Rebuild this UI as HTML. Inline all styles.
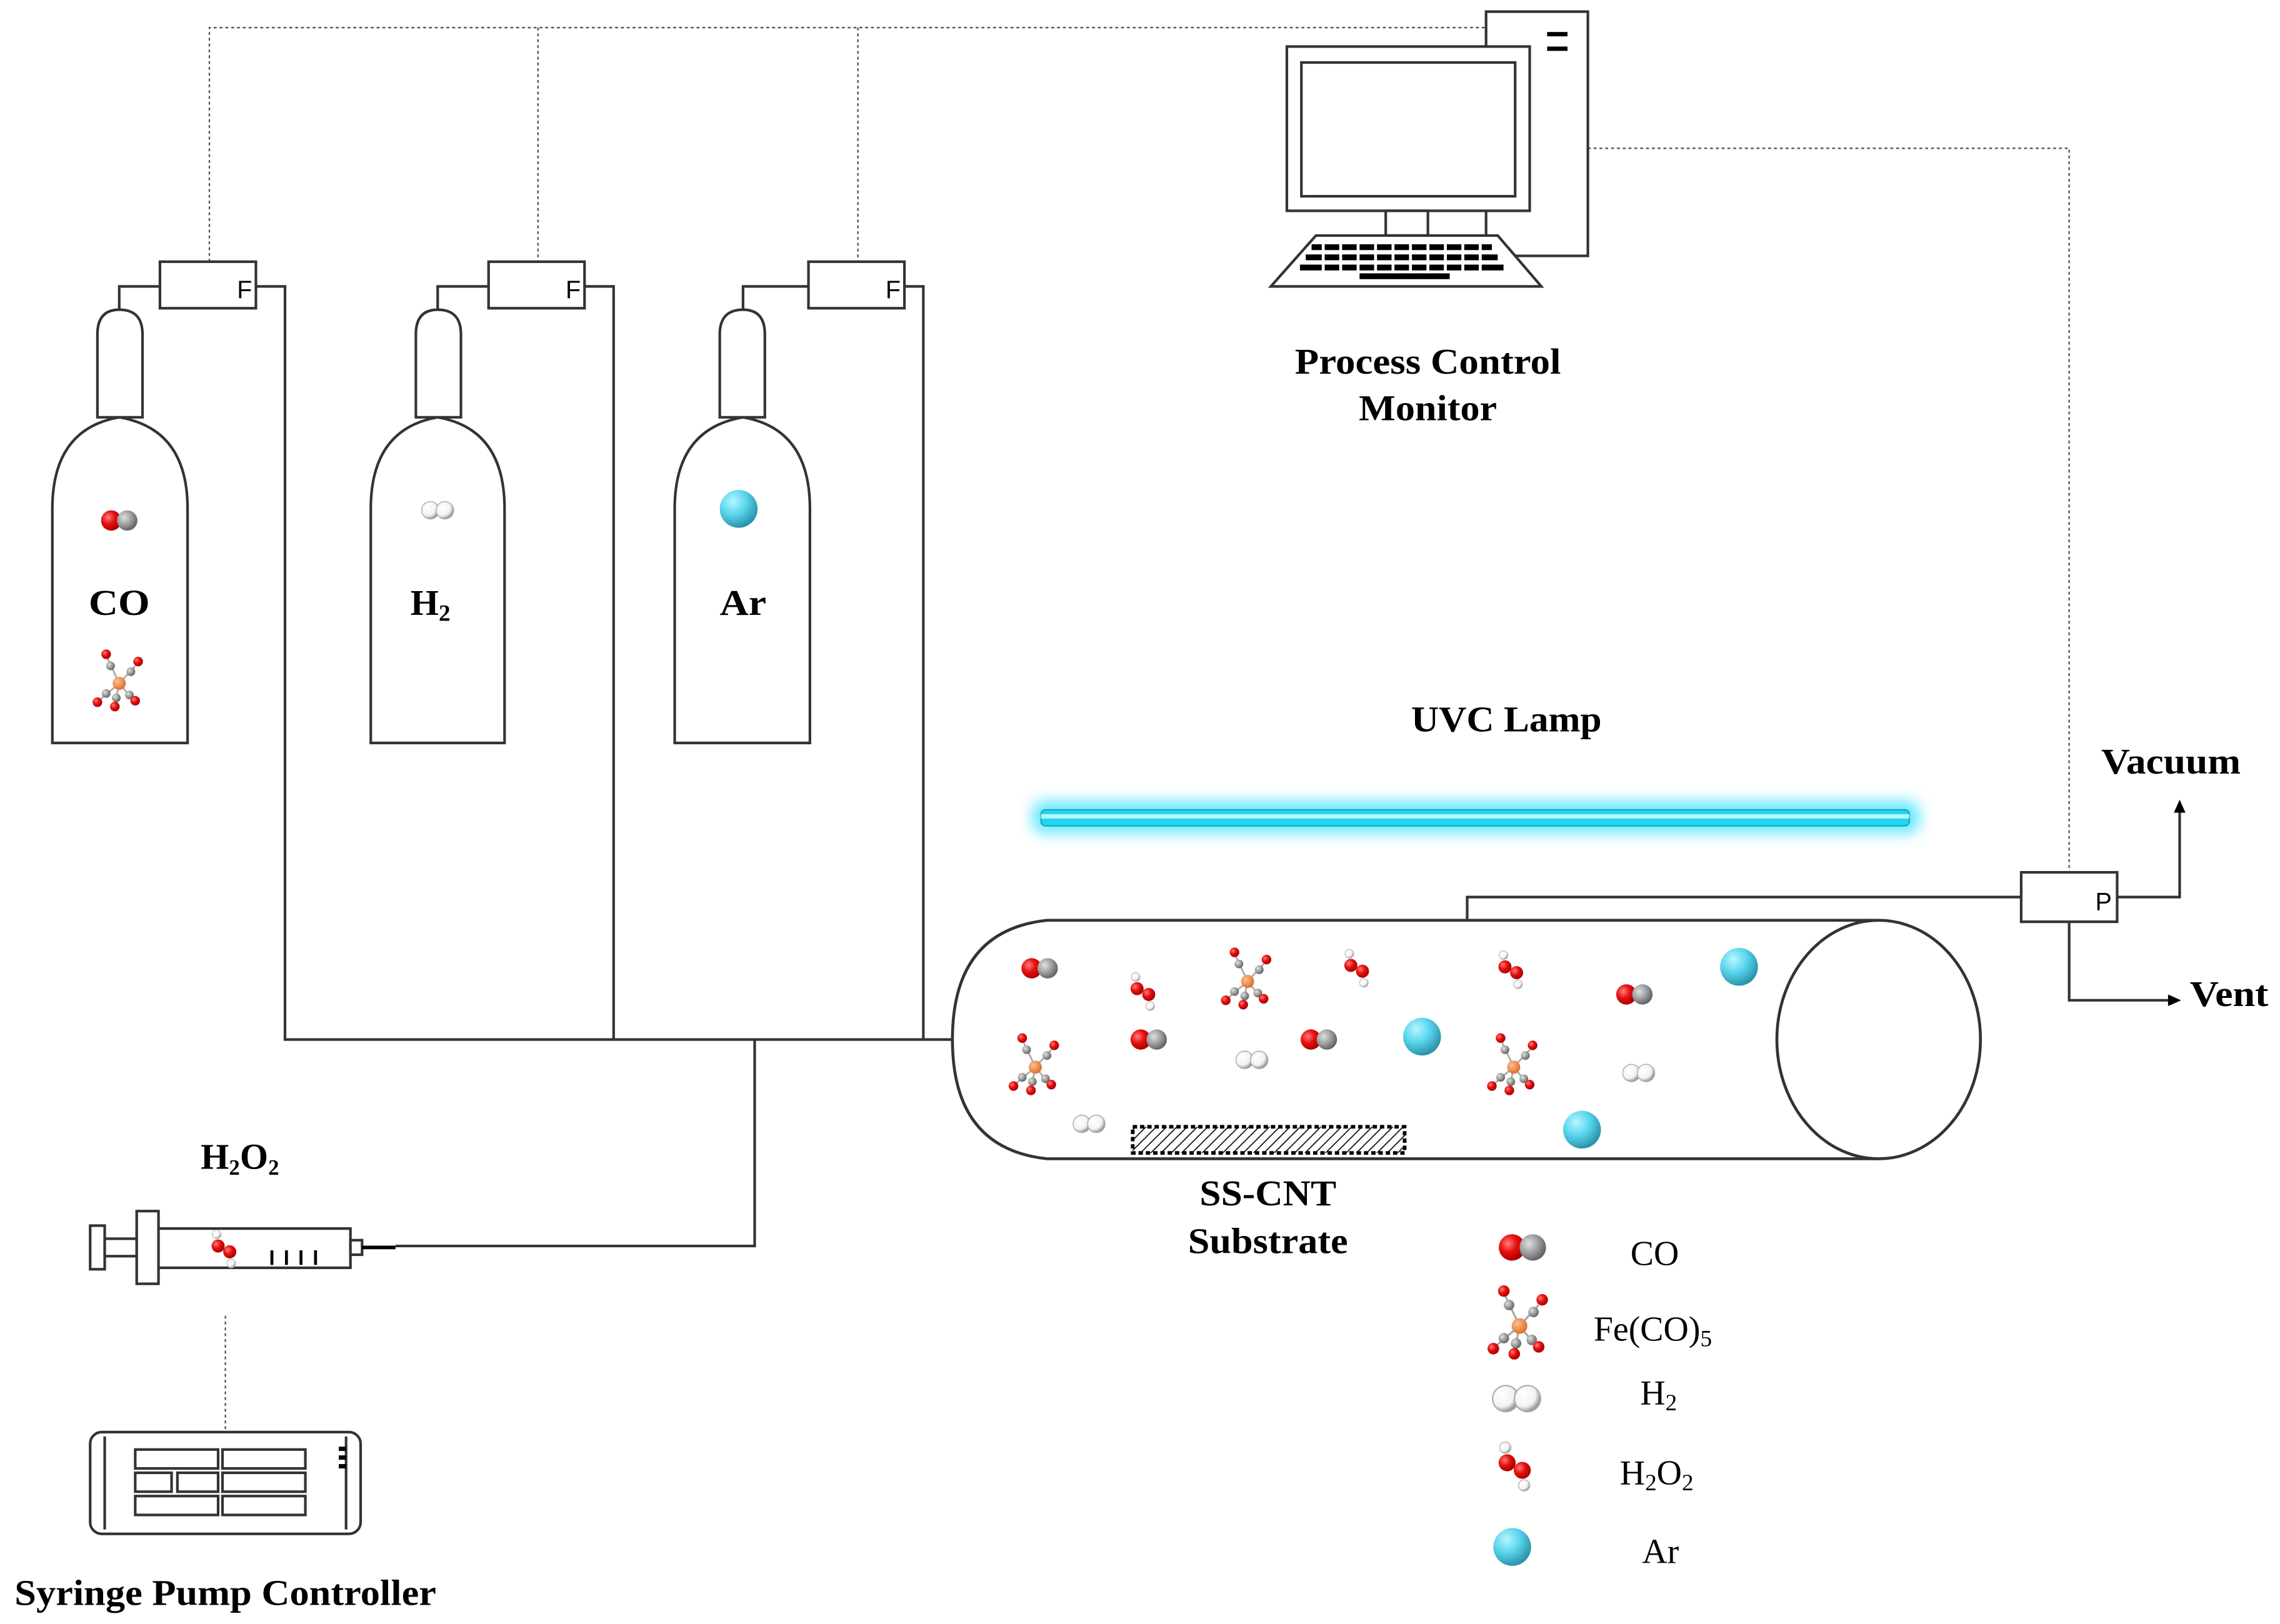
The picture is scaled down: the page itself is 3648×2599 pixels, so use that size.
<!DOCTYPE html>
<html><head><meta charset="utf-8"><style>
html,body{margin:0;padding:0;background:#fff;}
svg{display:block;}
text{font-family:"Liberation Serif",serif;fill:#000;}
.b{font-weight:bold;}
</style></head><body>
<svg width="3648" height="2599" viewBox="0 0 1568 1117" preserveAspectRatio="none" xmlns="http://www.w3.org/2000/svg">
<defs>
<radialGradient id="gr" cx="35%" cy="35%" r="65%"><stop offset="0" stop-color="#ff8080"/><stop offset="0.5" stop-color="#e81010"/><stop offset="1" stop-color="#a00"/></radialGradient>
<radialGradient id="gg" cx="35%" cy="35%" r="65%"><stop offset="0" stop-color="#e0e0e0"/><stop offset="0.6" stop-color="#999"/><stop offset="1" stop-color="#666"/></radialGradient>
<radialGradient id="gw" cx="35%" cy="35%" r="65%"><stop offset="0" stop-color="#fff"/><stop offset="0.7" stop-color="#f2f2f2"/><stop offset="1" stop-color="#999"/></radialGradient>
<radialGradient id="gc" cx="35%" cy="30%" r="70%"><stop offset="0" stop-color="#b8f6ff"/><stop offset="0.5" stop-color="#5ad6ee"/><stop offset="1" stop-color="#2c95ac"/></radialGradient>
<radialGradient id="go" cx="35%" cy="35%" r="65%"><stop offset="0" stop-color="#ffc090"/><stop offset="1" stop-color="#e07030"/></radialGradient>
<pattern id="hatch" width="5" height="5" patternUnits="userSpaceOnUse" patternTransform="rotate(45)"><line x1="0" y1="0" x2="0" y2="5" stroke="#000" stroke-width="1.4"/></pattern>
<filter id="glow" x="-10%" y="-200%" width="120%" height="500%"><feGaussianBlur stdDeviation="5"/></filter>
<g id="co"><circle cx="-5.5" cy="0" r="7" fill="url(#gr)"/><circle cx="5.5" cy="0" r="7" fill="url(#gg)"/></g>
<g id="h2"><circle cx="-5" cy="0" r="6" fill="url(#gw)" stroke="#aaa" stroke-width="0.6"/><circle cx="5" cy="0" r="6" fill="url(#gw)" stroke="#aaa" stroke-width="0.6"/></g>
<g id="ar"><circle cx="0" cy="0" r="13" fill="url(#gc)"/></g>
<g id="h2o2"><circle cx="-6" cy="-11" r="3" fill="url(#gw)" stroke="#bbb" stroke-width="0.5"/><circle cx="-5" cy="-3" r="4.5" fill="url(#gr)"/><circle cx="3" cy="1" r="4.5" fill="url(#gr)"/><circle cx="4" cy="9" r="3" fill="url(#gw)" stroke="#bbb" stroke-width="0.5"/></g>
<g id="fe">
<g stroke="#aaa" stroke-width="1.2"><line x1="0" y1="0" x2="-8" y2="-17"/><line x1="0" y1="0" x2="11" y2="-12"/><line x1="0" y1="0" x2="-13" y2="11"/><line x1="0" y1="0" x2="-3" y2="15"/><line x1="0" y1="0" x2="10" y2="12"/></g>
<circle cx="-6" cy="-12" r="3" fill="url(#gg)"/><circle cx="-9" cy="-20" r="3.3" fill="url(#gr)"/>
<circle cx="8" cy="-8" r="3" fill="url(#gg)"/><circle cx="13" cy="-15" r="3.3" fill="url(#gr)"/>
<circle cx="-9" cy="7" r="3" fill="url(#gg)"/><circle cx="-15" cy="13" r="3.3" fill="url(#gr)"/>
<circle cx="-2" cy="10" r="3" fill="url(#gg)"/><circle cx="-3" cy="16" r="3.3" fill="url(#gr)"/>
<circle cx="7" cy="8" r="3" fill="url(#gg)"/><circle cx="11" cy="12" r="3.3" fill="url(#gr)"/>
<circle cx="0" cy="0" r="4.5" fill="url(#go)"/>
</g>
</defs>

<g stroke="#555" stroke-width="1" stroke-dasharray="2,2" fill="none">
<polyline points="144,180 144,19 1022,19"/>
<line x1="370" y1="19" x2="370" y2="180"/>
<line x1="590" y1="19" x2="590" y2="180"/>
<polyline points="1092,102 1423,102 1423,600"/>
<line x1="155" y1="905" x2="155" y2="985"/>
</g>

<g stroke="#333" stroke-width="1.8" fill="none">
<polyline points="82,213 82,197 110,197"/>
<polyline points="176,197 196,197 196,715 655,715"/>
<polyline points="301,213 301,197 336,197"/>
<polyline points="402,197 422,197 422,715"/>
<polyline points="511,213 511,197 556,197"/>
<polyline points="622,197 635,197 635,715"/>
<polyline points="519,715 519,857 272,857"/>
<polyline points="1009,633 1009,617 1390,617"/>
<polyline points="1456,617 1499,617 1499,558"/>
<polyline points="1423,634 1423,688 1492,688"/>
</g>
<polygon points="1499,550 1495,559 1503,559" fill="#000"/>
<polygon points="1500,688 1491,684 1491,692" fill="#000"/>

<g fill="#fff" stroke="#333" stroke-width="1.8">
<rect x="110" y="180" width="66" height="32"/>
<rect x="336" y="180" width="66" height="32"/>
<rect x="556" y="180" width="66" height="32"/>
<rect x="1390" y="600" width="66" height="34"/>
</g>
<g font-size="17">
<text x="163" y="205" style="font-family:'Liberation Sans',sans-serif">F</text>
<text x="389" y="205" style="font-family:'Liberation Sans',sans-serif">F</text>
<text x="609" y="205" style="font-family:'Liberation Sans',sans-serif">F</text>
<text x="1441" y="626" style="font-family:'Liberation Sans',sans-serif">P</text>
</g>

<g fill="#fff" stroke="#333" stroke-width="1.8">
<path d="M67,287 V230 Q67,213 82,213 Q98,213 98,230 V287 Z"/>
<path d="M36,511 V350 Q36,295 82,287 Q129,295 129,350 V511 Z"/>
<path d="M286,287 V230 Q286,213 301,213 Q317,213 317,230 V287 Z"/>
<path d="M255,511 V350 Q255,295 301,287 Q347,295 347,350 V511 Z"/>
<path d="M495,287 V230 Q495,213 511,213 Q526,213 526,230 V287 Z"/>
<path d="M464,511 V350 Q464,295 511,287 Q557,295 557,350 V511 Z"/>
</g>
<use href="#co" x="82" y="358"/>
<use href="#fe" x="82" y="470"/>
<use href="#h2" x="301" y="351"/>
<use href="#ar" x="508" y="350"/>
<text class="b" x="82" y="423" font-size="25" text-anchor="middle" textLength="42" lengthAdjust="spacingAndGlyphs">CO</text>
<text class="b" x="296" y="423" font-size="25" text-anchor="middle">H<tspan font-size="16" dy="4">2</tspan></text>
<text class="b" x="511" y="423" font-size="25" text-anchor="middle" textLength="32" lengthAdjust="spacingAndGlyphs">Ar</text>

<g fill="#fff" stroke="#333" stroke-width="1.8">
<rect x="1022" y="8" width="70" height="168"/>
<rect x="885" y="32" width="167" height="113"/>
<rect x="895" y="43" width="147" height="92"/>
<rect x="953" y="145" width="29" height="17"/>
<polygon points="905,162 1030,162 1060,197 874,197"/>
</g>
<rect x="1064" y="22" width="14" height="3" fill="#000"/>
<rect x="1064" y="32" width="14" height="3" fill="#000"/>
<g fill="#000">
<rect x="902" y="168" width="124" height="4"/>
<rect x="898" y="175" width="132" height="4"/>
<rect x="894" y="182" width="140" height="4"/>
<rect x="935" y="188" width="62" height="4"/>
</g>
<g stroke="#fff" stroke-width="2">
<line x1="910" y1="166" x2="910" y2="188"/><line x1="922" y1="166" x2="922" y2="188"/><line x1="934" y1="166" x2="934" y2="188"/><line x1="946" y1="166" x2="946" y2="188"/><line x1="958" y1="166" x2="958" y2="188"/><line x1="970" y1="166" x2="970" y2="188"/><line x1="982" y1="166" x2="982" y2="188"/><line x1="994" y1="166" x2="994" y2="188"/><line x1="1006" y1="166" x2="1006" y2="188"/><line x1="1018" y1="166" x2="1018" y2="188"/>
</g>
<text class="b" x="982" y="257" font-size="25" text-anchor="middle" textLength="183" lengthAdjust="spacingAndGlyphs">Process Control</text>
<text class="b" x="982" y="289" font-size="25" text-anchor="middle" textLength="95" lengthAdjust="spacingAndGlyphs">Monitor</text>

<text class="b" x="1036" y="503" font-size="25" text-anchor="middle" textLength="131" lengthAdjust="spacingAndGlyphs">UVC Lamp</text>
<rect x="710" y="551" width="610" height="22" rx="8" fill="#4fe3ff" filter="url(#glow)" opacity="0.9"/>
<rect x="716" y="557" width="597" height="11" rx="3" fill="#22d6f0" stroke="#18a8c0" stroke-width="1"/>
<rect x="716" y="560" width="597" height="3" fill="#b8f6ff"/>

<path d="M1292,633 H720 Q655,640 655,715 Q655,790 720,797 H1292" fill="#fff" stroke="#333" stroke-width="2"/>
<ellipse cx="1292" cy="715" rx="70" ry="82" fill="#fff" stroke="#333" stroke-width="2"/>
<rect x="779" y="775" width="187" height="18" fill="url(#hatch)" stroke="#000" stroke-width="2.5" stroke-dasharray="3,2"/>
<use href="#co" x="715" y="666"/>
<use href="#h2o2" x="787" y="683"/>
<use href="#fe" x="858" y="675"/>
<use href="#h2o2" x="934" y="667"/>
<use href="#h2o2" x="1040" y="668"/>
<use href="#co" x="1124" y="684"/>
<use href="#ar" x="1196" y="665"/>
<use href="#fe" x="712" y="734"/>
<use href="#co" x="790" y="715"/>
<use href="#h2" x="861" y="729"/>
<use href="#co" x="907" y="715"/>
<use href="#ar" x="978" y="713"/>
<use href="#fe" x="1041" y="734"/>
<use href="#h2" x="1127" y="738"/>
<use href="#h2" x="749" y="773"/>
<use href="#ar" x="1088" y="777"/>
<text class="b" x="872" y="829" font-size="25" text-anchor="middle" textLength="94" lengthAdjust="spacingAndGlyphs">SS-CNT</text>
<text class="b" x="872" y="862" font-size="25" text-anchor="middle" textLength="110" lengthAdjust="spacingAndGlyphs">Substrate</text>

<text class="b" x="1493" y="532" font-size="25" text-anchor="middle" textLength="96" lengthAdjust="spacingAndGlyphs">Vacuum</text>
<text class="b" x="1533" y="692" font-size="25" text-anchor="middle" textLength="54" lengthAdjust="spacingAndGlyphs">Vent</text>

<text class="b" x="165" y="804" font-size="25" text-anchor="middle">H<tspan font-size="15" dy="4">2</tspan><tspan dy="-4">O</tspan><tspan font-size="15" dy="4">2</tspan></text>
<g fill="#fff" stroke="#333" stroke-width="1.8">
<rect x="62" y="843" width="10" height="30"/>
<rect x="72" y="852" width="22" height="12"/>
<rect x="94" y="833" width="15" height="50"/>
<rect x="109" y="845" width="132" height="27"/>
<rect x="241" y="853" width="8" height="10"/>
</g>
<line x1="249" y1="858" x2="272" y2="858" stroke="#000" stroke-width="2.5"/>
<g stroke="#000" stroke-width="2"><line x1="187" y1="860" x2="187" y2="870"/><line x1="197" y1="860" x2="197" y2="870"/><line x1="207" y1="860" x2="207" y2="870"/><line x1="217" y1="860" x2="217" y2="870"/></g>
<use href="#h2o2" x="155" y="860"/>

<g fill="#fff" stroke="#333" stroke-width="1.8">
<rect x="62" y="985" width="186" height="70" rx="8"/>
<line x1="72" y1="988" x2="72" y2="1052"/><line x1="238" y1="988" x2="238" y2="1052"/>
<rect x="93" y="997" width="57" height="13"/><rect x="153" y="997" width="57" height="13"/>
<rect x="93" y="1013" width="25" height="13"/><rect x="122" y="1013" width="28" height="13"/><rect x="153" y="1013" width="57" height="13"/>
<rect x="93" y="1029" width="57" height="13"/><rect x="153" y="1029" width="57" height="13"/>
</g>
<g fill="#000"><rect x="233" y="995" width="5" height="3"/><rect x="233" y="1001" width="5" height="3"/><rect x="233" y="1007" width="5" height="3"/></g>
<text class="b" x="10" y="1104" font-size="25" textLength="290" lengthAdjust="spacingAndGlyphs">Syringe Pump Controller</text>

<g transform="translate(1047,858) scale(1.3)"><use href="#co"/></g>
<g transform="translate(1045,912) scale(1.2)"><use href="#fe"/></g>
<g transform="translate(1043,962) scale(1.5)"><use href="#h2"/></g>
<g transform="translate(1043,1010) scale(1.3)"><use href="#h2o2"/></g>
<g transform="translate(1040,1064) scale(1.0)"><use href="#ar"/></g>
<g font-size="24">
<text x="1138" y="870" text-anchor="middle">CO</text>
<text x="1096" y="922">Fe(CO)<tspan font-size="16" dy="4">5</tspan></text>
<text x="1128" y="966">H<tspan font-size="16" dy="4">2</tspan></text>
<text x="1114" y="1021">H<tspan font-size="16" dy="4">2</tspan><tspan dy="-4">O</tspan><tspan font-size="16" dy="4">2</tspan></text>
<text x="1142" y="1075" text-anchor="middle">Ar</text>
</g>
</svg>
</body></html>
